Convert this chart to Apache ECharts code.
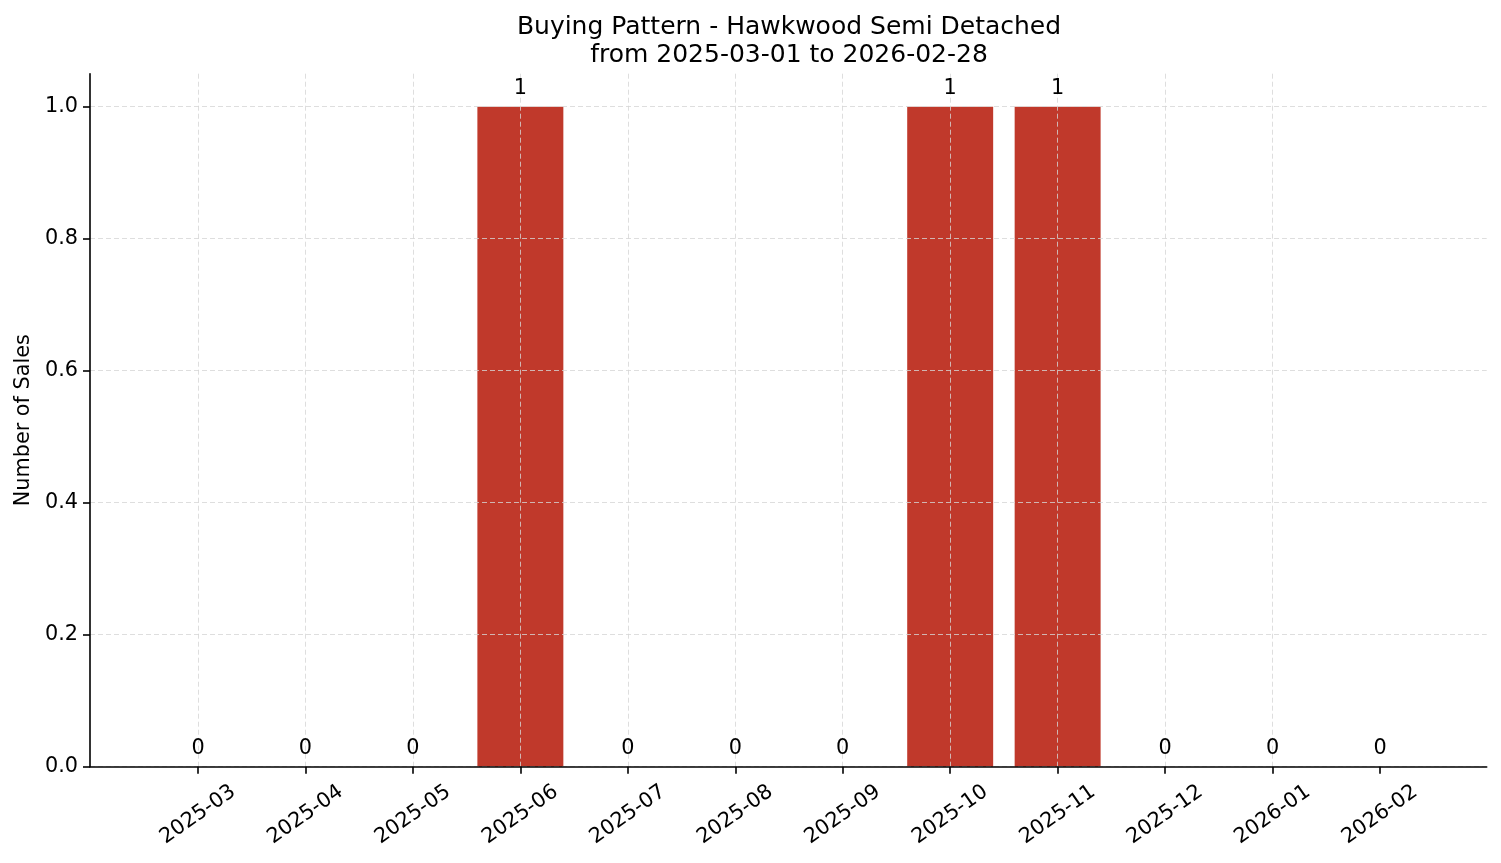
<!DOCTYPE html>
<html lang="en">
<head>
    <meta charset="UTF-8">
    <title>Buying Pattern - Hawkwood Semi Detached</title>
    <script src="https://cdn.jsdelivr.net/npm/echarts@6/dist/echarts.min.js"></script>
    <style>
        html, body { margin: 0; padding: 0; background: #fff; }
    </style>
</head>
<body>
<div id="chart" style="width:1501px;height:863px;"></div>
<script>
    // monthly sales counts
    var months = ['2025-03', '2025-04', '2025-05', '2025-06', '2025-07', '2025-08',
                  '2025-09', '2025-10', '2025-11', '2025-12', '2026-01', '2026-02'];
    var sales = [0, 0, 0, 1, 0, 0, 0, 1, 1, 0, 0, 0];
    var yTicks = [0, 0.2, 0.4, 0.6, 0.8, 1.0];
    var yMax = 1.05;

    var font = 'DejaVu Sans';
    var gridLine = { show: true, showMaxLine: false, lineStyle: { color: '#d6d6d6', width: 0.8, type: [5, 3] } };

    var mychart = echarts.init(document.getElementById('chart'));

    var option = {
        backgroundColor: '#fff',
        animation: false,
        textStyle: { fontFamily: font },
        title: {
            text: 'Buying Pattern - Hawkwood Semi Detached\nfrom 2025-03-01 to 2026-02-28',
            left: 784,
            top: 8,
            textAlign: 'center',
            textStyle: { fontFamily: font, fontSize: 25, fontWeight: 'normal', color: '#000', lineHeight: 28 }
        },
        grid: [
            // full axes box (spines + y axis)
            { left: 90, right: 14.3, top: 73.7, bottom: 96.3 },
            // category positions, matplotlib xlim padding
            { left: 198, right: 121, top: 73.7, bottom: 96.3 }
        ],
        xAxis: [
            {
                type: 'value', gridIndex: 0, min: 0, max: 1, z: 3,
                axisLine: { show: true, lineStyle: { color: '#000', width: 1.6 } },
                axisTick: { show: false }, axisLabel: { show: false }, splitLine: { show: false }
            },
            {
                type: 'category', gridIndex: 1, data: months, boundaryGap: false, z: 3,
                axisLine: { show: false },
                axisTick: { show: true, inside: false, length: 7, lineStyle: { color: '#000', width: 1.6 } },
                axisLabel: {
                    interval: 0, rotate: 35, align: 'center', verticalAlign: 'middle', margin: 48,
                    fontFamily: font, fontSize: 20.8, color: '#000'
                },
                splitLine: gridLine
            }
        ],
        yAxis: [
            {
                type: 'value', gridIndex: 0, min: 0, max: yMax, interval: 0.2, z: 3,
                name: 'Number of Sales', nameLocation: 'middle', nameGap: 56, nameRotate: 90,
                nameTextStyle: { fontFamily: font, fontSize: 20.8, color: '#000' },
                axisLine: { show: true, lineStyle: { color: '#000', width: 1.6 } },
                axisTick: { show: true, inside: false, length: 7, lineStyle: { color: '#000', width: 1.6 } },
                axisLabel: {
                    margin: 12, fontFamily: font, fontSize: 20.8, color: '#000',
                    showMaxLabel: false,
                    formatter: function (v) {
                        for (var i = 0; i < yTicks.length; i++) {
                            if (Math.abs(v - yTicks[i]) < 1e-6) return yTicks[i].toFixed(1);
                        }
                        return '';
                    }
                },
                splitLine: gridLine
            },
            {
                type: 'value', gridIndex: 1, min: 0, max: yMax, interval: 0.2, show: false
            }
        ],
        series: [
            {
                name: 'Sales',
                type: 'bar',
                xAxisIndex: 1,
                yAxisIndex: 1,
                data: sales,
                barWidth: '80%',
                z: 2,
                itemStyle: { color: '#c0392b' }
            },
            {
                // value labels on top of the grid lines
                name: 'Labels',
                type: 'bar',
                xAxisIndex: 1,
                yAxisIndex: 1,
                data: sales,
                barWidth: '80%',
                barGap: '-100%',
                z: 4,
                silent: true,
                itemStyle: { color: 'rgba(0,0,0,0)' },
                label: {
                    show: true, position: 'top', distance: 8,
                    fontFamily: font, fontSize: 20.8, color: '#000'
                }
            }
        ]
    };

    mychart.setOption(option);
</script>
</body>
</html>
